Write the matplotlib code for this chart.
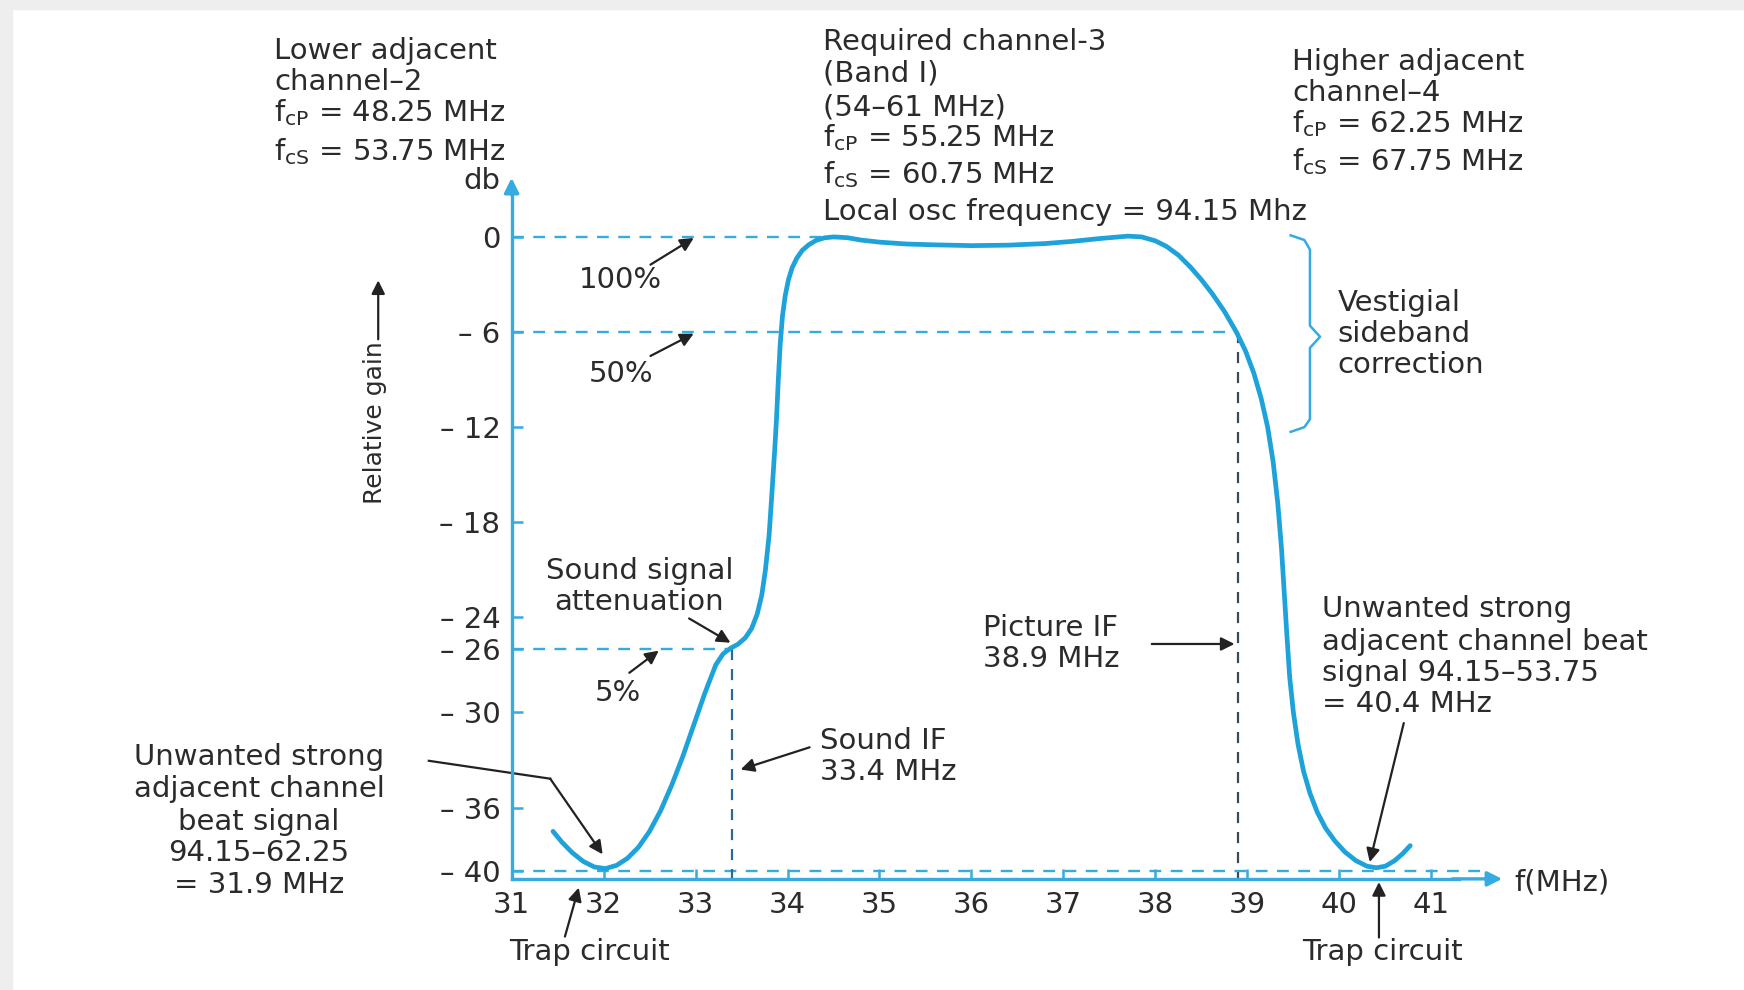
import numpy as np
import matplotlib
matplotlib.use("Agg")
import matplotlib.pyplot as plt
from matplotlib.patches import Rectangle

plt.rcParams['font.family'] = ['DejaVu Sans']
plt.rcParams['mathtext.fontset'] = 'dejavusans'

# IF response curve (frequency in MHz, relative gain in dB)
freq_mhz = [31.45, 31.55, 31.66, 31.78, 31.90, 32.02, 32.14, 32.26, 32.38, 32.50,
            32.62, 32.74, 32.86, 32.98, 33.10, 33.22, 33.30, 33.38, 33.46, 33.54,
            33.61, 33.67, 33.72, 33.76, 33.80, 33.83, 33.86, 33.88, 33.90, 33.92,
            33.945, 33.975, 34.01, 34.05, 34.10, 34.16, 34.23, 34.31, 34.40, 34.50,
            34.65, 34.80, 35.00, 35.30, 35.60, 36.00, 36.40, 36.80, 37.10, 37.40,
            37.70, 37.85, 38.00, 38.12, 38.25, 38.38, 38.50, 38.62, 38.75, 38.88,
            38.98, 39.07, 39.15, 39.22, 39.28, 39.33, 39.37, 39.40, 39.43, 39.46,
            39.50, 39.55, 39.61, 39.68, 39.76, 39.85, 39.95, 40.06, 40.18, 40.30,
            40.40, 40.50, 40.60, 40.69, 40.77]
gain_db = [-37.5, -38.2, -38.85, -39.4, -39.75, -39.85, -39.65, -39.2, -38.5, -37.5,
           -36.2, -34.6, -32.8, -30.8, -28.8, -27.0, -26.3, -25.95, -25.7, -25.3,
           -24.7, -23.8, -22.6, -21.0, -18.8, -16.2, -13.5, -11.5, -9.0, -6.8,
           -5.0, -3.7, -2.7, -1.95, -1.35, -0.85, -0.5, -0.22, -0.06, 0.0,
           -0.05, -0.2, -0.33, -0.45, -0.5, -0.55, -0.52, -0.42, -0.28, -0.1,
           0.05, 0.0, -0.25, -0.6, -1.15, -1.9, -2.7, -3.6, -4.7, -6.0,
           -7.2, -8.6, -10.2, -12.0, -14.2, -16.8, -19.6, -22.4, -25.2, -27.8,
           -30.0, -32.0, -33.7, -35.1, -36.3, -37.3, -38.1, -38.8, -39.35, -39.7,
           -39.8, -39.7, -39.35, -38.9, -38.4]

x_ticks = [31, 32, 33, 34, 35, 36, 37, 38, 39, 40, 41]
y_ticks = [0, -6, -12, -18, -24, -26, -30, -36, -40]
y_tick_labels = ['0', '– 6', '– 12', '– 18', '– 24', '– 26', '– 30', '– 36', '– 40']

sound_if = 33.4
picture_if = 38.9
trap_low = 31.9
trap_high = 40.4

curve_c = '#1ea2da'
axis_c = '#35abe0'
text_c = '#2b2b2b'
fs = 21

fig = plt.figure(figsize=(17.44, 9.9), dpi=100)
ax = fig.add_axes([0, 0, 1, 1])
ax.set_xlim(25.438, 44.399)
ax.set_ylim(-47.51, 14.946)

# light grey frame strips of the screenshot
fig.patches.append(Rectangle((0, 0.991), 1, 0.009, transform=fig.transFigure, color='#eeeeee', zorder=0))
fig.patches.append(Rectangle((0, 0), 0.007, 1, transform=fig.transFigure, color='#eeeeee', zorder=0))

# axes through the origin of the drawing
for s in ['top', 'right']:
    ax.spines[s].set_visible(False)
ax.spines['left'].set_position(('data', 31))
ax.spines['bottom'].set_position(('data', -40.5))
ax.spines['left'].set_bounds(-40.5, 3.0)
ax.spines['bottom'].set_bounds(31, 41.3)
for s in ['left', 'bottom']:
    ax.spines[s].set_color(axis_c)
    ax.spines[s].set_linewidth(2.4)
ax.annotate('', xy=(31, 3.9), xytext=(31, 2.5),
            arrowprops=dict(arrowstyle='-|>', color=axis_c, lw=2.4, mutation_scale=22))
ax.annotate('', xy=(41.8, -40.5), xytext=(41.2, -40.5),
            arrowprops=dict(arrowstyle='-|>', color=axis_c, lw=2.4, mutation_scale=22))

ax.set_xticks(x_ticks)
ax.set_xticklabels([str(t) for t in x_ticks])
ax.set_yticks(y_ticks)
ax.set_yticklabels(y_tick_labels)
ax.tick_params(axis='x', direction='in', length=7, width=1.8, color=axis_c,
               labelsize=fs, labelcolor=text_c, pad=9)
ax.tick_params(axis='y', direction='in', length=8, width=1.8, color=axis_c,
               labelsize=fs, labelcolor=text_c, pad=8)

# reference dashed lines
dash = dict(color=axis_c, lw=1.7, dashes=(5, 4))
ax.plot([31, 34.4], [0, 0], **dash)
ax.plot([31, picture_if], [-6, -6], **dash)
ax.plot([31, sound_if], [-26, -26], **dash)
ax.plot([31, 41.55], [-40, -40], **dash)
ax.plot([sound_if, sound_if], [-26, -40.5], color='#2a6a9a', lw=1.6, dashes=(5, 4))
ax.plot([picture_if, picture_if], [-6, -40.5], color='#3a4a58', lw=1.6, dashes=(5, 4))

# response curve
ax.plot(freq_mhz, gain_db, color=curve_c, lw=3.4, solid_capstyle='round',
        solid_joinstyle='round', zorder=5)

# brace for vestigial sideband correction
bx = 39.68
brace_x = [bx - 0.21, bx - 0.06, bx, bx, bx + 0.11, bx, bx, bx - 0.06, bx - 0.21]
brace_y = [0.1, -0.2, -0.8, -5.6, -6.3, -7.0, -11.5, -12.0, -12.3]
ax.plot(brace_x, brace_y, color=axis_c, lw=1.8)

# text blocks
def block(x, ys, lines, ha='left'):
    for y, s in zip(ys, lines):
        ax.text(x, y, s, ha=ha, va='baseline', fontsize=fs, color=text_c)

block(28.42, [11.23, 9.26, 7.30, 4.84],
      ['Lower adjacent', 'channel–2',
       r'f$_{\mathregular{cP}}$ = 48.25 MHz', r'f$_{\mathregular{cS}}$ = 53.75 MHz'])
block(34.386, [11.82, 9.79, 7.68, 5.72, 3.40, 1.09],
      ['Required channel-3', '(Band I)', '(54–61 MHz)',
       r'f$_{\mathregular{cP}}$ = 55.25 MHz', r'f$_{\mathregular{cS}}$ = 60.75 MHz',
       'Local osc frequency = 94.15 Mhz'])
block(39.489, [10.56, 8.60, 6.63, 4.18],
      ['Higher adjacent', 'channel–4',
       r'f$_{\mathregular{cP}}$ = 62.25 MHz', r'f$_{\mathregular{cS}}$ = 67.75 MHz'])
block(39.98, [-4.67, -6.63, -8.60], ['Vestigial', 'sideband', 'correction'])
block(32.39, [-21.58, -23.54], ['Sound signal', 'attenuation'], ha='center')
block(34.35, [-32.32, -34.28], ['Sound IF', '33.4 MHz'])
block(36.13, [-25.16, -27.12], ['Picture IF', '38.9 MHz'])
block(28.255, [-33.30, -35.33, -37.44, -39.40, -41.37],
      ['Unwanted strong', 'adjacent channel', 'beat signal', '94.15–62.25', '= 31.9 MHz'],
      ha='center')
block(39.815, [-23.96, -26.07, -28.04, -30.0],
      ['Unwanted strong', 'adjacent channel beat', 'signal 94.15–53.75', '= 40.4 MHz'])

ax.text(30.88, 3.02, 'db', ha='right', va='baseline', fontsize=fs, color=text_c)
ax.text(41.907, -40.7, 'f(MHz)', ha='left', va='center', fontsize=fs, color=text_c)
ax.text(29.51, -11.72, 'Relative gain', rotation=90, ha='center', va='center',
        fontsize=fs - 3, color=text_c)
ax.text(32.185, -2.74, '100%', ha='center', va='center', fontsize=fs, color=text_c)
ax.text(32.185, -8.63, '50%', ha='center', va='center', fontsize=fs, color=text_c)
ax.text(32.16, -28.77, '5%', ha='center', va='center', fontsize=fs, color=text_c)
ax.text(31.85, -45.12, 'Trap circuit', ha='center', va='center', fontsize=fs, color=text_c)
ax.text(40.47, -45.12, 'Trap circuit', ha='center', va='center', fontsize=fs, color=text_c)

# arrows
arr = dict(arrowstyle='-|>', color='#222222', lw=1.6, mutation_scale=20, shrinkA=0, shrinkB=0)
def arrow(x0, y0, x1, y1):
    ax.annotate('', xy=(x1, y1), xytext=(x0, y0), arrowprops=arr)

arrow(29.55, -6.46, 29.55, -2.74)
arrow(32.51, -1.75, 32.98, -0.07)
arrow(32.51, -7.51, 32.98, -6.1)
arrow(32.28, -27.5, 32.60, -26.1)
arrow(32.93, -24.07, 33.38, -25.6)
arrow(34.24, -32.2, 33.49, -33.6)
arrow(37.96, -25.68, 38.86, -25.68)
ax.plot([30.10, 31.42], [-33.05, -34.18], color='#222222', lw=1.6)
arrow(31.42, -34.18, 31.99, -38.95)
arrow(40.70, -30.67, trap_high - 0.07, -39.44)
arrow(31.58, -44.14, 31.73, -41.05)
arrow(40.43, -44.2, 40.43, -40.7)

fig.savefig('out.png', dpi=100)
